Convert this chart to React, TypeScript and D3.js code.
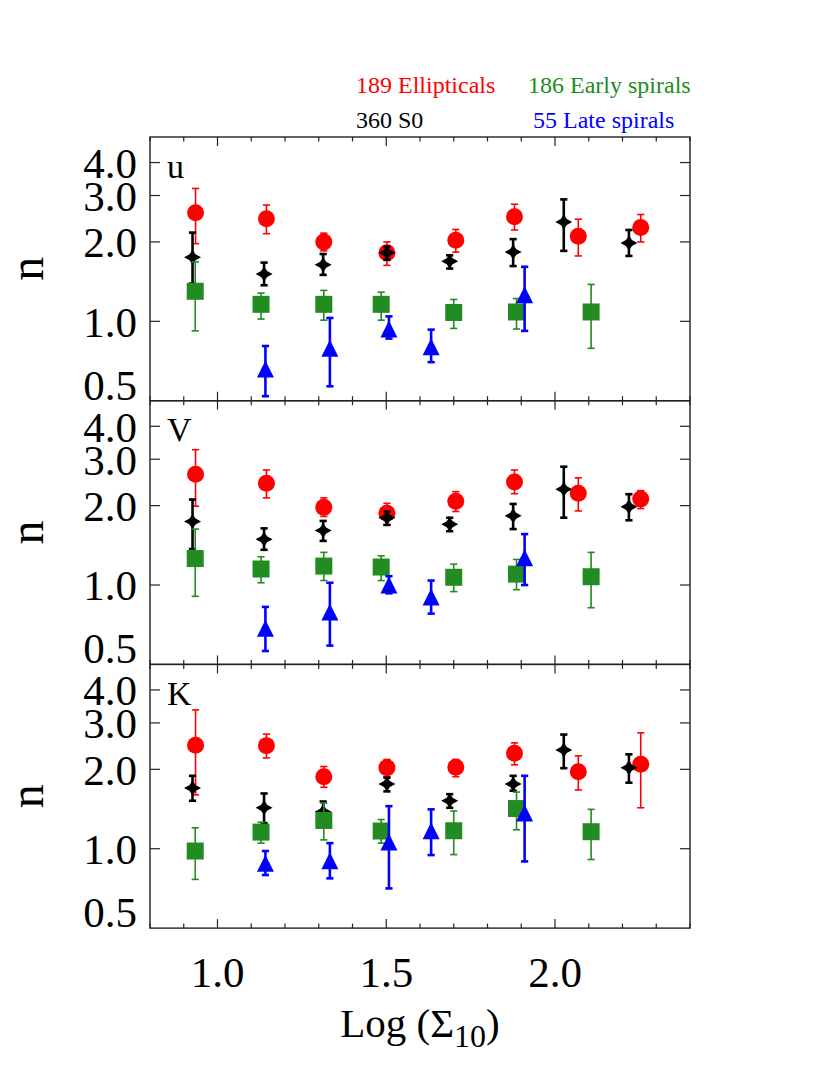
import React from 'react';
import * as d3 from 'd3';

// ---------- data ----------
const bands = ['u', 'V', 'K'];

const xEll = [0.935, 1.145, 1.315, 1.502, 1.706, 1.88, 2.069, 2.254];
const xS0 = [0.926, 1.138, 1.313, 1.502, 1.688, 1.876, 2.026, 2.219];
const xEarly = [0.934, 1.129, 1.315, 1.485, 1.7, 1.886, 2.107];
const xLate = [1.142, 1.333, 1.508, 1.633, 1.91];

// u band: [n, low, high]
const uEll = [[2.58, 1.97, 3.19], [2.45, 2.15, 2.76], [2.0, 1.85, 2.16], [1.82, 1.63, 2.0], [2.03, 1.83, 2.23], [2.49, 2.22, 2.78], [2.1, 1.77, 2.44], [2.27, 2.0, 2.54]];
const uS0 = [[1.75, 1.39, 2.17], [1.51, 1.37, 1.67], [1.64, 1.5, 1.8], [1.82, 1.71, 1.92], [1.69, 1.585, 1.78], [1.83, 1.62, 2.05], [2.38, 1.85, 2.9], [1.98, 1.77, 2.22]];
const uEarly = [[1.3, 0.92, 1.68], [1.16, 1.02, 1.28], [1.16, 1.01, 1.31], [1.16, 1.01, 1.29], [1.08, 0.94, 1.21], [1.085, 0.935, 1.22], [1.085, 0.79, 1.38]];
const uLate = [[0.66, 0.52, 0.806], [0.79, 0.567, 1.03], [0.935, 0.86, 1.044], [0.8, 0.7, 0.93], [1.26, 0.92, 1.61]];

// V band
const vEll = [[2.63, 1.99, 3.26], [2.43, 2.14, 2.73], [1.97, 1.82, 2.14], [1.87, 1.69, 2.04], [2.08, 1.9, 2.26], [2.46, 2.22, 2.73], [2.23, 1.91, 2.55], [2.12, 1.95, 2.28]];
const vS0 = [[1.74, 1.37, 2.11], [1.49, 1.36, 1.64], [1.61, 1.47, 1.75], [1.8, 1.69, 1.9], [1.7, 1.6, 1.8], [1.83, 1.63, 2.03], [2.31, 1.8, 2.81], [1.98, 1.76, 2.21]];
const vEarly = [[1.26, 0.906, 1.63], [1.15, 1.02, 1.28], [1.18, 1.04, 1.33], [1.17, 1.04, 1.29], [1.07, 0.944, 1.2], [1.1, 0.96, 1.25], [1.075, 0.82, 1.33]];
const vLate = [[0.685, 0.562, 0.826], [0.79, 0.589, 1.02], [1.0, 0.93, 1.08], [0.9, 0.779, 1.04], [1.27, 1.0, 1.56]];

// K band
const kEll = [[2.47, 1.6, 3.36], [2.46, 2.21, 2.72], [1.875, 1.71, 2.05], [2.03, 1.875, 2.18], [2.035, 1.875, 2.18], [2.3, 2.08, 2.52], [1.96, 1.67, 2.25], [2.09, 1.43, 2.75]];
const kS0 = [[1.7, 1.52, 1.89], [1.43, 1.25, 1.62], [1.38, 1.32, 1.51], [1.76, 1.65, 1.86], [1.52, 1.43, 1.61], [1.76, 1.66, 1.89], [2.37, 2.02, 2.71], [2.03, 1.78, 2.28]];
const kEarly = [[0.98, 0.765, 1.2], [1.156, 1.05, 1.26], [1.28, 1.08, 1.49], [1.167, 1.05, 1.29], [1.17, 0.95, 1.39], [1.42, 1.18, 1.64], [1.16, 0.91, 1.41]];
const kLate = [[0.88, 0.795, 0.98], [0.9, 0.772, 1.05], [1.06, 0.707, 1.45], [1.17, 0.946, 1.41], [1.365, 0.895, 1.89]];

const panelData = [
  [uEll, uS0, uEarly, uLate],
  [vEll, vS0, vEarly, vLate],
  [kEll, kS0, kEarly, kLate],
];

const seriesX = [xEll, xS0, xEarly, xLate];
const seriesNames = ['189 Ellipticals', '360 S0', '186 Early spirals', '55 Late spirals'];
const seriesColors = ['#ff0000', '#000000', '#228b22', '#0000ff'];
const seriesShapes = ['circle', 'star', 'square', 'triangle'];

const yTickValues = [1, 2, 3, 4];
const yTickLabels = ['1.0', '2.0', '3.0', '4.0'];
const xMajorTicks = [1.0, 1.5, 2.0];
const xTickLabels = ['1.0', '1.5', '2.0'];

// ---------- layout ----------
const W = 830;
const H = 1075;
const left = 150;
const right = 690;
const top0 = 137;
const panelH = 263.7;
const FONT = 'Liberation Serif';
const FRAME = '#222';

const x = d3.scaleLinear().domain([0.8, 2.4]).range([left, right]);
const xMinor = d3.range(8, 25).map((v) => v / 10);

function marker(shape: string, cx: number, cy: number, color: string, key: string) {
  if (shape === 'circle') return <circle key={key} cx={cx} cy={cy} r={8.5} fill={color} />;
  if (shape === 'square') return <rect key={key} x={cx - 8.5} y={cy - 8.5} width={17} height={17} fill={color} />;
  if (shape === 'triangle') {
    const p = d3.path();
    p.moveTo(cx, cy - 8.5);
    p.lineTo(cx + 8.5, cy + 8.5);
    p.lineTo(cx - 8.5, cy + 8.5);
    p.closePath();
    return <path key={key} d={p.toString()} fill={color} />;
  }
  // four-pointed star
  const p = d3.path();
  const a = 8.5, b = 7.5, c = 3.0;
  p.moveTo(cx - a, cy);
  p.lineTo(cx - c, cy - c);
  p.lineTo(cx, cy - b);
  p.lineTo(cx + c, cy - c);
  p.lineTo(cx + a, cy);
  p.lineTo(cx + c, cy + c);
  p.lineTo(cx, cy + b);
  p.lineTo(cx - c, cy + c);
  p.closePath();
  return <path key={key} d={p.toString()} fill={color} />;
}

function Panel({ idx }: { idx: number }) {
  const top = top0 + idx * panelH;
  const bottom = top + panelH;
  const y = d3.scaleLog().domain([0.5, 5]).range([bottom, top]);
  const data = panelData[idx];
  return (
    <g>
      <rect x={left} y={top} width={right - left} height={panelH} fill="none" stroke={FRAME} strokeWidth={1.4} />
      {xMinor.map((v, i) => {
        const major = xMajorTicks.some((m) => Math.abs(m - v) < 1e-6);
        const len = major ? 9 : 4.5;
        return (
          <g key={'xt' + i}>
            <line x1={x(v)} x2={x(v)} y1={bottom} y2={bottom - len} stroke={FRAME} strokeWidth={1.2} />
            <line x1={x(v)} x2={x(v)} y1={top} y2={top + len} stroke={FRAME} strokeWidth={1.2} />
          </g>
        );
      })}
      {yTickValues.map((v, i) => (
        <g key={'yt' + i}>
          <line x1={left} x2={left + 10} y1={y(v)} y2={y(v)} stroke={FRAME} strokeWidth={1.2} />
          <line x1={right} x2={right - 10} y1={y(v)} y2={y(v)} stroke={FRAME} strokeWidth={1.2} />
          <text x={137} y={y(v)} dy="0.36em" textAnchor="end" fontSize={43} fontFamily={FONT} fill="#000">
            {yTickLabels[i]}
          </text>
        </g>
      ))}
      <text x={137} y={y(0.5) - 1} textAnchor="end" fontSize={43} fontFamily={FONT} fill="#000">0.5</text>
      <text transform={`translate(43,${top + panelH / 2}) rotate(-90)`} textAnchor="middle" fontSize={48} fontFamily={FONT} fill="#000">n</text>
      <text x={167} y={top + 40.5} fontSize={34} fontFamily={FONT} fill="#000">{bands[idx]}</text>
      {data.map((ser, s) => (
        <g key={'s' + s}>
          {ser.map((d, j) => {
            const cx = x(seriesX[s][j]);
            const col = seriesColors[s];
            const sw = s === 1 || s === 3 ? 2.6 : 1.6;
            const yl = y(d[1]);
            const yh = y(d[2]);
            return (
              <g key={'p' + j}>
                <line x1={cx} x2={cx} y1={yl} y2={yh} stroke={col} strokeWidth={sw} />
                <line x1={cx - 3.6} x2={cx + 3.6} y1={yl} y2={yl} stroke={col} strokeWidth={sw} />
                <line x1={cx - 3.6} x2={cx + 3.6} y1={yh} y2={yh} stroke={col} strokeWidth={sw} />
                {marker(seriesShapes[s], cx, y(d[0]), col, 'm' + j)}
              </g>
            );
          })}
        </g>
      ))}
    </g>
  );
}

export default function App() {
  const lastBottom = top0 + 3 * panelH;
  return (
    <div style={{ position: 'absolute', left: 0, top: 0 }}>
      <svg width={W} height={H} viewBox={`0 0 ${W} ${H}`} style={{ display: 'block', background: '#fff' }}>
        <rect x={0} y={0} width={W} height={H} fill="#fff" />
        <text x={356} y={93} fontSize={24} fontFamily={FONT} fill={seriesColors[0]}>{seriesNames[0]}</text>
        <text x={528} y={93} fontSize={24} fontFamily={FONT} fill={seriesColors[2]}>{seriesNames[2]}</text>
        <text x={356} y={128} fontSize={24} fontFamily={FONT} fill={seriesColors[1]}>{seriesNames[1]}</text>
        <text x={533} y={128} fontSize={24} fontFamily={FONT} fill={seriesColors[3]}>{seriesNames[3]}</text>
        {[0, 1, 2].map((i) => <Panel key={i} idx={i} />)}
        {xMajorTicks.map((v, i) => (
          <text key={'xl' + i} x={x(v)} y={lastBottom + 59} textAnchor="middle" fontSize={43} fontFamily={FONT} fill="#000">
            {xTickLabels[i]}
          </text>
        ))}
        <text x={(left + right) / 2} y={1036.5} textAnchor="middle" fontSize={41} fontFamily={FONT} fill="#000">
          Log (Σ<tspan fontSize={32} dy={10}>10</tspan><tspan dy={-10}>)</tspan>
        </text>
      </svg>
    </div>
  );
}
